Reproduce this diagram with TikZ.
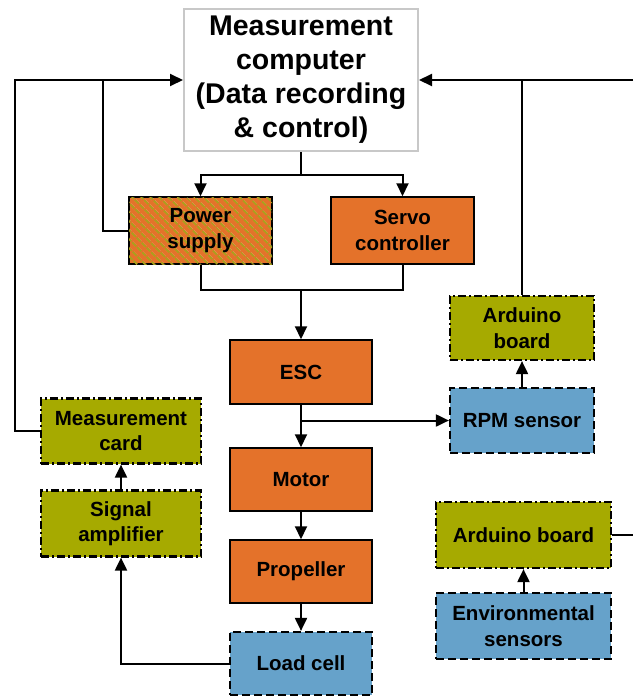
\documentclass[tikz,border=0pt]{standalone}
\usepackage{fontspec}
\setmainfont{Liberation Sans}
\usetikzlibrary{arrows.meta,patterns.meta}
\definecolor{boxorange}{HTML}{E4722A}
\definecolor{boxolive}{HTML}{A6AA00}
\definecolor{boxblue}{HTML}{66A2CA}
\definecolor{hatcholive}{HTML}{A8A21C}
\definecolor{pcgray}{HTML}{C8C8C8}

\begin{document}
\begin{tikzpicture}[x=1pt,y=-1pt,
  box/.style={draw=black,line width=1.5pt,align=center,inner sep=0pt,
    font=\bfseries\fontsize{20.5}{25.5}\selectfont},
  drive/.style={box,fill=boxorange},
  board/.style={box,fill=boxolive,line width=2.2pt,dash pattern=on 8pt off 3pt on 2pt off 3pt},
  sensor/.style={box,fill=boxblue,line width=2.2pt,dash pattern=on 8pt off 4pt},
  link/.style={line width=2pt},
  arr/.style={link,-{Triangle[length=13pt,width=12pt]}}]
\useasboundingbox (0,0) rectangle (633,697);

% computer
\node[draw=pcgray,line width=2pt,fill=white,align=center,inner sep=0pt,
  minimum width=234pt,minimum height=142pt,
  font=\bfseries\fontsize{28.5}{34}\selectfont] (pc) at (301,80)
  {Measurement\\computer\\(Data recording\\\& control)};

% drive chain
\node[drive,minimum width=143pt,minimum height=67pt,
  postaction={pattern={Lines[angle=-45,distance=6.5pt,line width=2pt]},pattern color=hatcholive}]
  (psu) at (200.5,230.5) {Power\\supply};
\node[drive,minimum width=143pt,minimum height=67pt] (servo) at (402.5,230.5) {Servo\\controller};
\node[drive,minimum width=142pt,minimum height=64pt] (esc) at (301,372) {ESC};
\node[drive,minimum width=142pt,minimum height=63pt] (motor) at (301,479.5) {Motor};
\node[drive,minimum width=142pt,minimum height=63pt] (prop) at (301,571.5) {Propeller};
\node[sensor,minimum width=142pt,minimum height=63pt] (load) at (301,663.5) {Load cell};

% left side
\node[board,minimum width=160pt,minimum height=65pt] (card) at (121,431) {Measurement\\card};
\node[board,minimum width=160pt,minimum height=66pt] (amp) at (121,523.5) {Signal\\amplifier};

% right side
\node[board,minimum width=144pt,minimum height=64pt] (ardA) at (522,328) {Arduino\\board};
\node[sensor,minimum width=144pt,minimum height=65pt] (rpm) at (522,420.5) {RPM sensor};
\node[board,minimum width=175pt,minimum height=66pt] (ardB) at (523.5,535) {Arduino board};
\node[sensor,minimum width=175pt,minimum height=66pt] (env) at (523.5,626) {Environmental\\sensors};

\coordinate (forkT) at (301,175);
\coordinate (joinB) at (301,290);
\coordinate (tapL) at (103,80);
\coordinate (busL) at (15,80);
\coordinate (edgeR) at (633,80);
\coordinate (edgeB) at (633,535);
\coordinate (tapM) at (301,420.5);

% computer -> power supply / servo
\draw[link] (pc.south) -- (forkT);
\draw[arr] (forkT) -| (psu.north);
\draw[arr] (forkT) -| (servo.north);

% power supply / servo -> ESC
\draw[link] (psu.south) |- (joinB);
\draw[link] (servo.south) |- (joinB);
\draw[arr] (joinB) -- (esc.north);

\draw[arr] (esc.south) -- (motor.north);
\draw[arr] (tapM) -- (rpm.west);
\draw[arr] (motor.south) -- (prop.north);
\draw[arr] (prop.south) -- (load.north);

% measurement path
\draw[arr] (load.west) -| (amp.south);
\draw[arr] (amp.north) -- (card.south);
\draw[arr] (card.west) -| (busL) -- (pc.west);
\draw[link] (psu.west) -| (tapL);

% arduino path
\draw[arr] (rpm.north) -- (ardA.south);
\draw[link] (ardA.north) -- (ardA.north |- pc.east);
\draw[arr] (edgeR) -- (pc.east);
\draw[arr] (env.north) -- (ardB.south);
\draw[link] (ardB.east) -- (edgeB);

\end{tikzpicture}
\end{document}
